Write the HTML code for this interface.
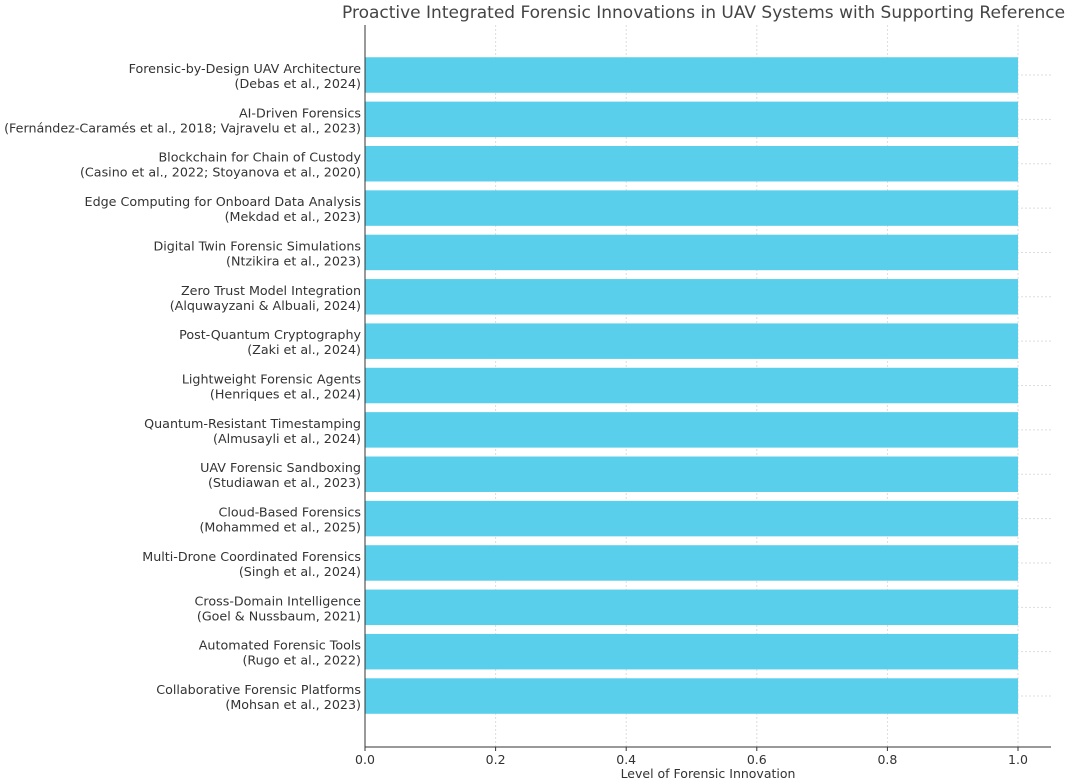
<!DOCTYPE html>
<html><head><meta charset="utf-8"><style>
html,body{margin:0;padding:0;background:#fff;overflow:hidden}
svg{display:block;font-family:"DejaVu Sans","Liberation Sans",sans-serif}
</style></head><body>
<svg id="chart" width="1065" height="782" viewBox="0 0 1065 782">
<text x="342" y="18" font-size="17" fill="#444">Proactive Integrated Forensic Innovations in UAV Systems with Supporting References</text>
<g id="grid"></g><g id="bars"></g><g id="ylabels"></g><g id="xaxis"></g>
<line x1="365" y1="25" x2="365" y2="747" stroke="#333" stroke-width="1"/>
<line x1="365" y1="747" x2="1051" y2="747" stroke="#333" stroke-width="1"/>
<text x="708" y="778" font-size="12.5" fill="#333" text-anchor="middle">Level of Forensic Innovation</text>
</svg>
<script>
const titles = ["Forensic-by-Design UAV Architecture","AI-Driven Forensics","Blockchain for Chain of Custody","Edge Computing for Onboard Data Analysis","Digital Twin Forensic Simulations","Zero Trust Model Integration","Post-Quantum Cryptography","Lightweight Forensic Agents","Quantum-Resistant Timestamping","UAV Forensic Sandboxing","Cloud-Based Forensics","Multi-Drone Coordinated Forensics","Cross-Domain Intelligence","Automated Forensic Tools","Collaborative Forensic Platforms"];
const refs = ["(Debas et al., 2024)","(Fernández-Caramés et al., 2018; Vajravelu et al., 2023)","(Casino et al., 2022; Stoyanova et al., 2020)","(Mekdad et al., 2023)","(Ntzikira et al., 2023)","(Alquwayzani & Albuali, 2024)","(Zaki et al., 2024)","(Henriques et al., 2024)","(Almusayli et al., 2024)","(Studiawan et al., 2023)","(Mohammed et al., 2025)","(Singh et al., 2024)","(Goel & Nussbaum, 2021)","(Rugo et al., 2022)","(Mohsan et al., 2023)"];
const values = [1,1,1,1,1,1,1,1,1,1,1,1,1,1,1];
const xTicks = [0,0.2,0.4,0.6,0.8,1.0];
const xTickLabels = ["0.0","0.2","0.4","0.6","0.8","1.0"];
const NS="http://www.w3.org/2000/svg";
const xs = v => 365 + v*653;
const step = 44.36;
const ys = i => 75 + i*step;
function mk(tag, attrs, parent){const e=document.createElementNS(NS,tag);for(const k in attrs)e.setAttribute(k,attrs[k]);parent.appendChild(e);return e;}
const grid=document.getElementById('grid'), bars=document.getElementById('bars'), yl=document.getElementById('ylabels'), xa=document.getElementById('xaxis');
xTicks.forEach((t,i)=>{
  const g=mk('line',{x1:xs(t),x2:xs(t),y1:25,y2:747,stroke:'#ddd','stroke-dasharray':'2,2'},grid);
  
  
  const tk=mk('line',{x1:xs(t),x2:xs(t),y1:747,y2:751,stroke:'#333'},xa);
  
  
  const tl=mk('text',{x:xs(t),y:764,'font-size':12.5,fill:'#333','text-anchor':'middle'},xa);
  tl.textContent=xTickLabels[i];
  
  
});
titles.forEach((t,i)=>{
  const y=ys(i);
  const g=mk('line',{x1:365,x2:1051,y1:y,y2:y,stroke:'#ddd','stroke-dasharray':'2,2'},grid);
  
  
  const b=mk('rect',{x:xs(0),y:y-step*0.4,width:xs(values[i])-xs(0),height:step*0.8,fill:'#59cfeb'},bars);
  
  
  const tx=mk('text',{x:361,y:y-2,'font-size':12.7,fill:'#333','text-anchor':'end'},yl);
  
  
  const s1=mk('tspan',{x:361,dy:0},tx); s1.textContent=t;
  const s2=mk('tspan',{x:361,dy:15},tx); s2.textContent=refs[i];
});
</script>
</body></html>
